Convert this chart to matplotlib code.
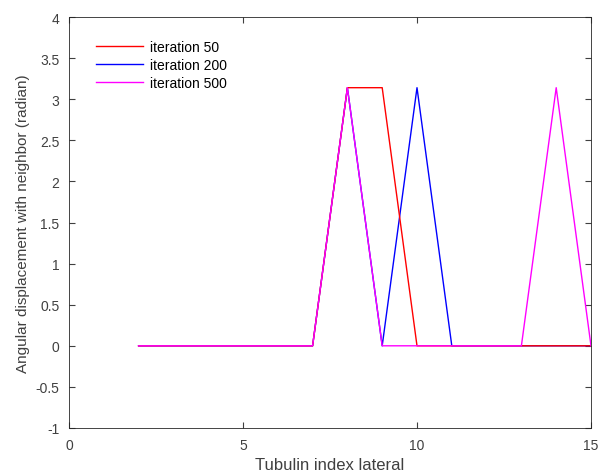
import numpy as np
import matplotlib.pyplot as plt

plt.rcParams['font.family'] = ['Liberation Sans', 'DejaVu Sans']

x = np.arange(2, 16)
it50 = [0, 0, 0, 0, 0, 0, 3.14, 3.14, 0, 0, 0, 0, 0, 0]
it200 = [0, 0, 0, 0, 0, 0, 3.14, 0, 3.14, 0, 0, 0, 0, 0]
it500 = [0, 0, 0, 0, 0, 0, 3.14, 0, 0, 0, 0, 0, 3.14, 0]

fig = plt.figure(figsize=(6, 4.77), dpi=100)
ax = fig.add_axes([69/600, 1 - 429/477, (591-69)/600, (429-18)/477])

ax.plot(x, it50, color='#ff0000', lw=1, label='iteration 50', zorder=3)
ax.plot(x, it200, color='#0000ff', lw=1, label='iteration 200', zorder=2)
ax.plot(x, it500, color='#ff00ff', lw=1, label='iteration 500', zorder=4)

ax.set_xlim(0, 15)
ax.set_ylim(-1, 4)
ax.set_xticks([0, 5, 10, 15])
ax.set_yticks(np.arange(-1, 4.01, 0.5))
ax.set_yticklabels(['-1', '-0.5', '0', '0.5', '1', '1.5', '2', '2.5', '3', '3.5', '4'])
ax.tick_params(direction='in', top=True, right=True, labelsize=10, colors='#404040',
               length=4, pad=7)
for s in ax.spines.values():
    s.set_color('#262626')
    s.set_linewidth(0.6)
ax.set_xlabel('Tubulin index lateral', fontsize=12, color='#404040', labelpad=4)
ax.set_ylabel('Angular displacement with neighbor (radian)', fontsize=11, color='#404040', labelpad=4)

h, l = ax.get_legend_handles_labels()
ax.legend(h, l, loc='upper left', bbox_to_anchor=(0.035, 0.965), frameon=False,
          fontsize=10, handlelength=3.4, handletextpad=0.5, labelspacing=0.3,
          borderaxespad=0.2)

fig.savefig('out.png')
